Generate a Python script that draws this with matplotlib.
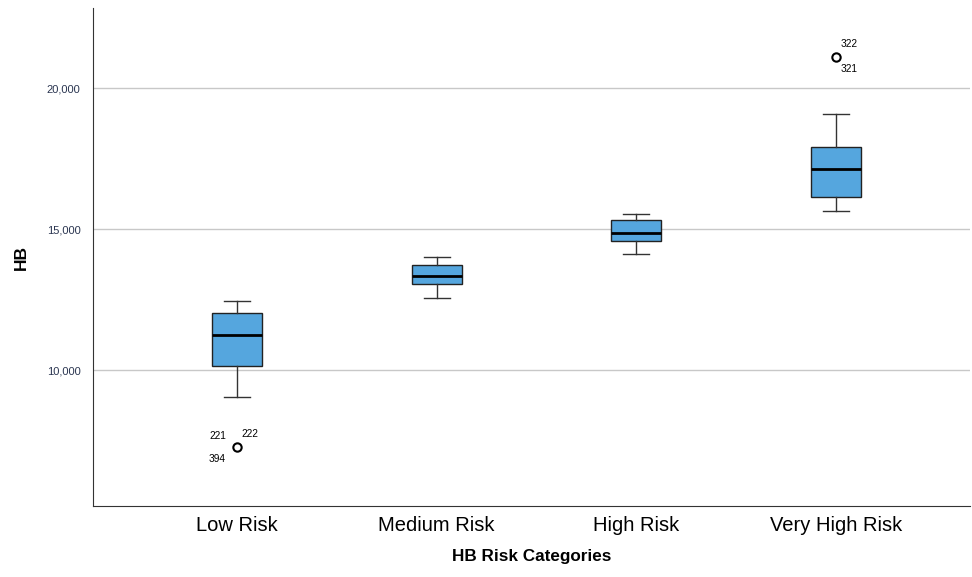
import numpy as np
import matplotlib.pyplot as plt
import matplotlib.transforms as mtransforms
from matplotlib.ticker import FuncFormatter

plt.rcParams['font.family'] = ['Liberation Sans', 'DejaVu Sans']

categories = ['Low Risk', 'Medium Risk', 'High Risk', 'Very High Risk']
whisker_low = [9040, 12550, 14110, 15640]
q1 = [10140, 13050, 14570, 16130]
median = [11240, 13330, 14860, 17130]
q3 = [12020, 13720, 15320, 17910]
whisker_high = [12450, 14010, 15530, 19080]
outliers = [[7270], [], [], [21100]]
outlier_ids = {0: ['221', '222', '394'], 3: ['322', '321']}

stats = []
for i in range(len(categories)):
    stats.append({'whislo': whisker_low[i], 'q1': q1[i], 'med': median[i],
                  'q3': q3[i], 'whishi': whisker_high[i], 'fliers': outliers[i]})

fig = plt.figure(figsize=(9.72, 5.77), dpi=100)
ax = fig.add_axes([0.0957, 0.123, 0.9023, 0.863])

ax.bxp(stats, positions=range(len(categories)), widths=0.25, patch_artist=True,
       boxprops=dict(facecolor='#55a6de', edgecolor='#222222', linewidth=1.0),
       medianprops=dict(color='black', linewidth=2.0),
       whiskerprops=dict(color='#333333', linewidth=1.0),
       capprops=dict(color='#333333', linewidth=1.0),
       flierprops=dict(marker='o', markerfacecolor='white', markeredgecolor='black',
                       markersize=6, markeredgewidth=1.5),
       capwidths=0.13)

# outlier case labels
lo = outliers[0][0]
ax.annotate(outlier_ids[0][0], (0, lo), xytext=(-14, 6), textcoords='offset points', fontsize=7.3, ha='center')
ax.annotate(outlier_ids[0][1], (0, lo), xytext=(9, 7), textcoords='offset points', fontsize=7.3, ha='center')
ax.annotate(outlier_ids[0][2], (0, lo), xytext=(-14, -11), textcoords='offset points', fontsize=7.3, ha='center')
hi = outliers[3][0]
ax.annotate(outlier_ids[3][0], (3, hi), xytext=(9, 7), textcoords='offset points', fontsize=7.3, ha='center')
ax.annotate(outlier_ids[3][1], (3, hi), xytext=(9, -11), textcoords='offset points', fontsize=7.3, ha='center')

ax.set_xlim(-0.721, 3.671)
ax.set_ylim(5180, 22840)
ax.set_yticks([10000, 15000, 20000])
ax.yaxis.set_major_formatter(FuncFormatter(lambda v, p: f'{int(v):,}'))
ax.set_xticks(range(len(categories)))
ax.set_xticklabels(categories, fontsize=14.5)
# category labels sit a touch right of the box centres
shift = mtransforms.ScaledTranslation(4 / 100, 0, fig.dpi_scale_trans)
for lab in ax.get_xticklabels():
    lab.set_transform(lab.get_transform() + shift)
ax.tick_params(axis='y', labelsize=8, labelcolor='#2a3550', length=0, pad=9)
ax.tick_params(axis='x', length=0, pad=7)
ax.grid(axis='y', color='#c8c8c8', linewidth=1)
ax.set_axisbelow(True)

for s in ['top', 'right']:
    ax.spines[s].set_visible(False)
for s in ['left', 'bottom']:
    ax.spines[s].set_color('#333333')

ax.set_ylabel('HB', fontsize=12.5, fontweight='bold', labelpad=13)
ax.set_xlabel('HB Risk Categories', fontsize=12.3, fontweight='bold', labelpad=10)

fig.savefig('out.png', dpi=100)
